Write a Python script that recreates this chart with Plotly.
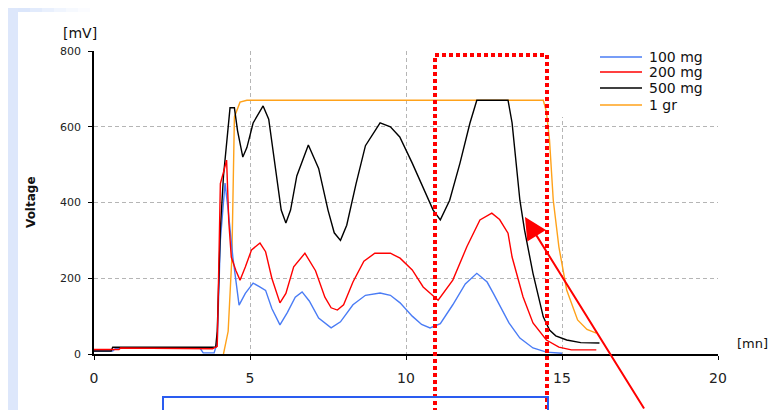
import plotly.graph_objects as go

# ---------------- data ----------------
x_tick_vals = [0, 5, 10, 15, 20]
y_tick_vals = [0, 200, 400, 600, 800]
series_names = ["100 mg", "200 mg", "500 mg", "1 gr"]

x_100 = [0, 0.6, 0.7, 3.4, 3.5, 3.85, 3.95, 4.05, 4.2, 4.3, 4.45, 4.65, 4.85, 5.1, 5.3, 5.5, 5.7,
         5.96, 6.2, 6.45, 6.67, 6.9, 7.2, 7.6, 7.9, 8.3, 8.7, 9.17, 9.5, 9.81, 10.2, 10.5, 10.77,
         11.1, 11.5, 11.9, 12.27, 12.6, 12.8, 13.0, 13.3, 13.65, 14.07, 14.5, 15.0]
y_100 = [8, 8, 15, 15, 3, 3, 30, 300, 451, 380, 256, 129, 160, 187, 178, 168, 120,
         77, 110, 150, 164, 140, 95, 69, 85, 130, 155, 161, 155, 135, 100, 78, 69,
         80, 130, 185, 213, 190, 160, 129, 82, 42, 16, 5, 2]

x_200 = [0, 0.8, 0.85, 3.8, 3.95, 4.0, 4.05, 4.15, 4.25, 4.32, 4.4, 4.55, 4.68, 4.85, 5.05, 5.32,
         5.5, 5.7, 5.96, 6.15, 6.4, 6.76, 7.1, 7.4, 7.6, 7.8, 8.0, 8.3, 8.65, 9.0, 9.5, 9.81,
         10.2, 10.55, 11.03, 11.5, 11.95, 12.37, 12.75, 13.0, 13.27, 13.4, 13.75, 14.07, 14.5,
         14.9, 15.3, 16.1]
y_200 = [12, 12, 16, 14, 20, 300, 450, 480, 512, 350, 256, 220, 195, 230, 275, 293,
         270, 200, 135, 160, 230, 266, 220, 150, 122, 116, 130, 190, 245, 266, 266, 253,
         222, 177, 142, 195, 283, 354, 372, 355, 319, 256, 151, 82, 37,
         18, 11, 11]

x_500 = [0, 0.55, 0.6, 3.9, 3.95, 4.05, 4.15, 4.26, 4.36, 4.5, 4.6, 4.77, 4.9, 5.1, 5.42, 5.6,
         5.8, 6.0, 6.15, 6.3, 6.5, 6.87, 7.2, 7.5, 7.7, 7.9, 8.1, 8.4, 8.7, 9.17, 9.5, 9.8,
         10.2, 10.55, 10.87, 11.1, 11.4, 11.73, 12.05, 12.27, 13.27, 13.4, 13.55, 13.65, 13.8,
         14.07, 14.4, 14.6, 14.8, 15.15, 15.6, 16.2]
y_500 = [8, 8, 18, 18, 60, 330, 470, 565, 650, 650, 590, 520, 545, 610, 655, 620,
         500, 380, 346, 380, 470, 552, 490, 380, 320, 300, 340, 450, 550, 610, 600, 573,
         504, 441, 380, 354, 406, 504, 610, 670, 670, 610, 478, 406, 327,
         213, 98, 63, 48, 37, 30, 29]

x_1gr = [4.15, 4.3, 4.42, 4.46, 4.5, 4.68, 4.9, 14.4, 14.5, 14.6, 14.72, 14.9, 15.15, 15.5, 15.8, 16.1]
y_1gr = [0, 60, 256, 433, 626, 665, 670, 670, 640, 565, 406, 283, 169, 90, 65, 55]

colors = ["#4a7cf5", "#ff0000", "#000000", "#ffa21a"]

# ---------------- figure ----------------
OFF = 8  # page body margin offset
W, H = 779 - OFF, 410 - OFF
# plot area in reference (screen) pixels
SL, SR, ST, SB = 94, 718, 51, 354
L, T = SL - OFF, ST - OFF
R, B = W - (SR - OFF), H - (SB - OFF)
PW, PH = SR - SL, SB - ST


def px(xs):
    return (xs - SL) / PW


def py(ys):
    return (SB - ys) / PH


fig = go.Figure()
order = [3, 0, 2, 1]
xs = [x_100, x_200, x_500, x_1gr]
ys = [y_100, y_200, y_500, y_1gr]
for i in order:
    fig.add_trace(go.Scatter(x=xs[i], y=ys[i], mode="lines", name=series_names[i],
                             line=dict(color=colors[i], width=1.4), showlegend=False))

shapes = []
# slide background strips
shapes.append(dict(type="rect", xref="paper", yref="paper", x0=px(-10), x1=px(18), y0=py(H + 20), y1=py(-10),
                   fillcolor="#dde7fb", line=dict(width=0), layer="above"))
top_cols = ["#dbe6fb", "#e2ebfc", "#e9f0fd", "#f0f5fe", "#f6f9fe", "#fbfcff"]
for k, c in enumerate(top_cols):
    shapes.append(dict(type="rect", xref="paper", yref="paper", x0=px(18 + k * 12), x1=px(30 + k * 12),
                       y0=py(12), y1=py(-10), fillcolor=c, line=dict(width=0), layer="above"))
# legend box (white, hides grid)
shapes.append(dict(type="rect", xref="paper", yref="paper", x0=px(558), x1=px(722), y0=py(117), y1=py(40),
                   fillcolor="white", line=dict(width=0), layer="above"))
leg_y = [57, 72, 88, 105]
for i in range(4):
    shapes.append(dict(type="line", xref="paper", yref="paper", x0=px(600), x1=px(642),
                       y0=py(leg_y[i]), y1=py(leg_y[i]), line=dict(color=colors[i], width=1.4), layer="above"))
# red dotted rectangle
shapes.append(dict(type="rect", xref="paper", yref="paper", x0=px(435), x1=px(547), y0=py(430), y1=py(55),
                   line=dict(color="#ff0000", width=4, dash="4px,3px"), layer="above"))
# blue rectangle at bottom
shapes.append(dict(type="rect", xref="paper", yref="paper", x0=px(163), x1=px(548), y0=py(430), y1=py(397),
                   line=dict(color="#2a5cf0", width=2), layer="above"))

annotations = []
for i in range(4):
    annotations.append(dict(xref="paper", yref="paper", x=px(647), y=py(leg_y[i]), text=series_names[i],
                            showarrow=False, xanchor="left", yanchor="middle",
                            font=dict(family="DejaVu Sans", size=14, color="#111")))
annotations.append(dict(xref="paper", yref="paper", x=px(61), y=py(33), text="[mV]", showarrow=False,
                        xanchor="left", yanchor="middle", font=dict(family="DejaVu Sans", size=14, color="#111")))
annotations.append(dict(xref="paper", yref="paper", x=px(735), y=py(343), text="[mn]", showarrow=False,
                        xanchor="left", yanchor="middle", font=dict(family="DejaVu Sans", size=13, color="#111")))
annotations.append(dict(xref="paper", yref="paper", x=px(31), y=py(202), text="<b>Voltage</b>", showarrow=False,
                        textangle=-90, xanchor="center", yanchor="middle",
                        font=dict(family="DejaVu Sans", size=12, color="#111")))
# red arrow
annotations.append(dict(xref="paper", yref="paper", x=px(525), y=py(217), text="", showarrow=True,
                        arrowhead=2, arrowsize=2.2, arrowwidth=2, arrowcolor="#ff0000",
                        ax=120, ay=215, axref="pixel", ayref="pixel", standoff=0))

fig.update_layout(
    width=W, height=H,
    margin=dict(l=L, r=R, t=T, b=B),
    paper_bgcolor="white", plot_bgcolor="white",
    shapes=shapes, annotations=annotations,
    showlegend=False,
    xaxis=dict(range=[0, 20], tickvals=x_tick_vals, ticktext=[str(v) for v in x_tick_vals],
               showline=True, linecolor="black", linewidth=1.5, ticks="outside", ticklen=4,
               tickcolor="black", showgrid=True, gridcolor="#b5b5b5", griddash="4px,3px", gridwidth=1,
               zeroline=False, tickfont=dict(family="DejaVu Sans", size=14, color="#222"),
               ticklabelstandoff=6, fixedrange=True),
    yaxis=dict(range=[0, 800], tickvals=y_tick_vals, ticktext=[str(v) for v in y_tick_vals],
               showline=True, linecolor="black", linewidth=1.5, ticks="outside", ticklen=4,
               tickcolor="black", showgrid=True, gridcolor="#b5b5b5", griddash="4px,3px", gridwidth=1,
               zeroline=False, tickfont=dict(family="DejaVu Sans", size=11, color="#222"),
               ticklabelstandoff=5, fixedrange=True),
)

fig.write_html("out.html")
